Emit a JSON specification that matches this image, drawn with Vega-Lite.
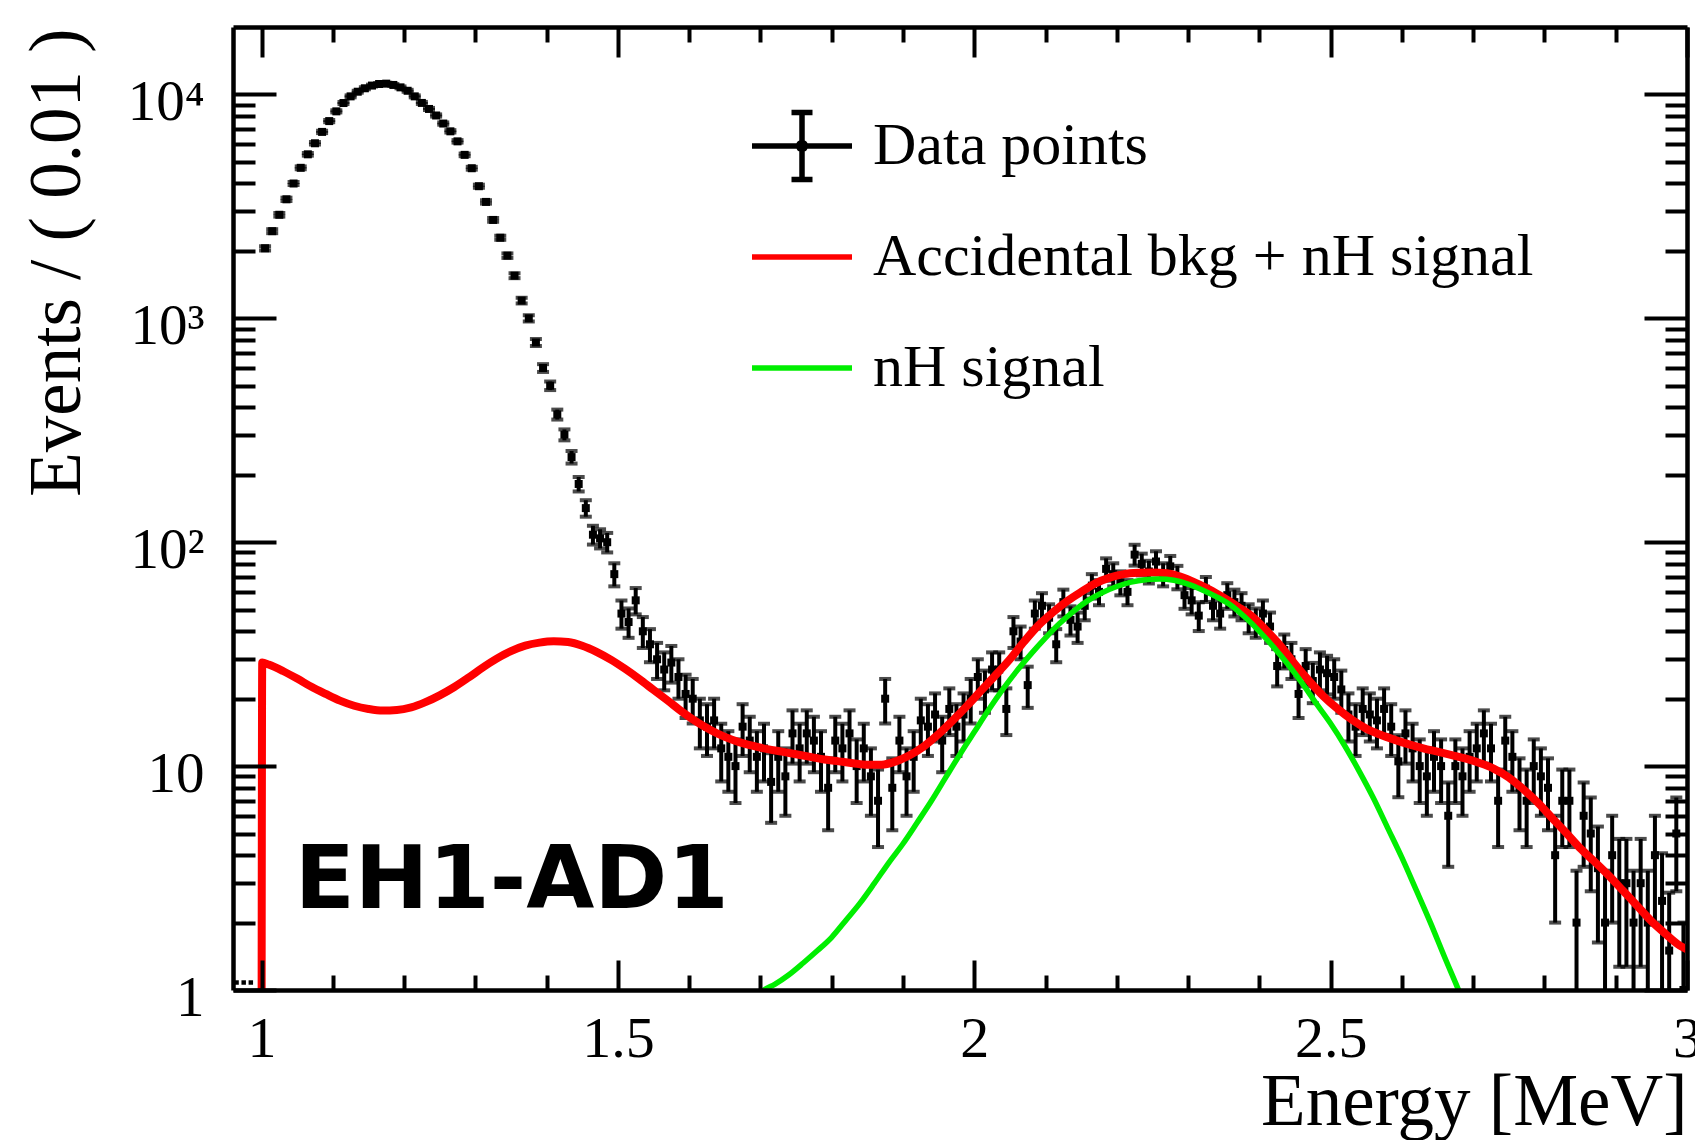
{
  "$schema": "https://vega.github.io/schema/vega-lite/v6.json",
  "width": 1454,
  "height": 963,
  "autosize": {"type": "none"},
  "padding": {"left": 233, "top": 27, "right": 8, "bottom": 150},
  "background": "white",
  "config": {"view": {"stroke": null}},
  "datasets": {
    "pts": [
      {"E":1.005,"N":2055,"lo":2010,"hi":2100},{"E":1.015,"N":2450,"lo":2400,"hi":2500},{"E":1.025,"N":2900,"lo":2846,"hi":2954},{"E":1.035,"N":3400,"lo":3342,"hi":3458},
      {"E":1.045,"N":4000,"lo":3937,"hi":4063},{"E":1.055,"N":4700,"lo":4631,"hi":4769},{"E":1.065,"N":5400,"lo":5327,"hi":5473},{"E":1.075,"N":6050,"lo":5972,"hi":6128},
      {"E":1.085,"N":6800,"lo":6718,"hi":6882},{"E":1.095,"N":7600,"lo":7513,"hi":7687},{"E":1.105,"N":8400,"lo":8308,"hi":8492},{"E":1.115,"N":9150,"lo":9054,"hi":9246},
      {"E":1.125,"N":9800,"lo":9701,"hi":9899},{"E":1.135,"N":10280,"lo":10179,"hi":10381},{"E":1.145,"N":10650,"lo":10547,"hi":10753},{"E":1.155,"N":10950,"lo":10845,"hi":11055},
      {"E":1.165,"N":11130,"lo":11025,"hi":11235},{"E":1.175,"N":11170,"lo":11064,"hi":11276},{"E":1.185,"N":11020,"lo":10915,"hi":11125},{"E":1.195,"N":10750,"lo":10646,"hi":10854},
      {"E":1.205,"N":10380,"lo":10278,"hi":10482},{"E":1.215,"N":9800,"lo":9701,"hi":9899},{"E":1.225,"N":9160,"lo":9064,"hi":9256},{"E":1.235,"N":8610,"lo":8517,"hi":8703},
      {"E":1.245,"N":8050,"lo":7960,"hi":8140},{"E":1.255,"N":7410,"lo":7324,"hi":7496},{"E":1.265,"N":6840,"lo":6757,"hi":6923},{"E":1.275,"N":6170,"lo":6091,"hi":6249},
      {"E":1.285,"N":5370,"lo":5297,"hi":5443},{"E":1.295,"N":4680,"lo":4612,"hi":4748},{"E":1.305,"N":3890,"lo":3828,"hi":3952},{"E":1.315,"N":3310,"lo":3252,"hi":3368},
      {"E":1.325,"N":2750,"lo":2698,"hi":2802},{"E":1.335,"N":2290,"lo":2242,"hi":2338},{"E":1.345,"N":1905,"lo":1861,"hi":1949},{"E":1.355,"N":1550,"lo":1511,"hi":1589},
      {"E":1.365,"N":1200,"lo":1165,"hi":1235},{"E":1.375,"N":1000,"lo":968,"hi":1032},{"E":1.385,"N":780,"lo":752,"hi":808},{"E":1.395,"N":600,"lo":576,"hi":624},
      {"E":1.405,"N":500,"lo":478,"hi":522},{"E":1.415,"N":372,"lo":353,"hi":391},{"E":1.425,"N":302,"lo":285,"hi":319},{"E":1.435,"N":240,"lo":224.5,"hi":255.5},
      {"E":1.445,"N":182,"lo":168.5,"hi":195.5},{"E":1.455,"N":142,"lo":130,"hi":154},{"E":1.465,"N":108,"lo":97.6,"hi":118.4},{"E":1.475,"N":104,"lo":93.8,"hi":114.2},
      {"E":1.485,"N":100,"lo":90,"hi":110},{"E":1.495,"N":72,"lo":63.5,"hi":80.5},{"E":1.505,"N":48,"lo":41.1,"hi":54.9},{"E":1.515,"N":44,"lo":37.4,"hi":50.6},
      {"E":1.525,"N":55,"lo":47.6,"hi":62.4},{"E":1.535,"N":40,"lo":33.7,"hi":46.3},{"E":1.545,"N":35,"lo":29.1,"hi":40.9},{"E":1.555,"N":30,"lo":24.5,"hi":35.5},
      {"E":1.565,"N":27,"lo":21.8,"hi":32.2},{"E":1.575,"N":29,"lo":23.6,"hi":34.4},{"E":1.585,"N":25,"lo":20,"hi":30},{"E":1.595,"N":21,"lo":16.4,"hi":25.6},
      {"E":1.605,"N":20,"lo":15.5,"hi":24.5},{"E":1.615,"N":16,"lo":12,"hi":20},{"E":1.625,"N":15,"lo":11.1,"hi":18.9},{"E":1.635,"N":16,"lo":12,"hi":20},
      {"E":1.645,"N":12,"lo":8.54,"hi":15.46},{"E":1.655,"N":11,"lo":7.68,"hi":14.32},{"E":1.665,"N":10,"lo":6.84,"hi":13.16},{"E":1.675,"N":15,"lo":11.1,"hi":18.9},
      {"E":1.685,"N":13,"lo":9.39,"hi":16.61},{"E":1.695,"N":11,"lo":7.68,"hi":14.32},{"E":1.705,"N":12,"lo":8.54,"hi":15.46},{"E":1.715,"N":8.5,"lo":5.58,"hi":11.42},
      {"E":1.725,"N":11,"lo":7.68,"hi":14.32},{"E":1.735,"N":9,"lo":6,"hi":12},{"E":1.745,"N":14,"lo":10.26,"hi":17.74},{"E":1.755,"N":12,"lo":8.54,"hi":15.46},
      {"E":1.765,"N":14,"lo":10.26,"hi":17.74},{"E":1.775,"N":13,"lo":9.39,"hi":16.61},{"E":1.785,"N":11,"lo":7.68,"hi":14.32},{"E":1.795,"N":8,"lo":5.17,"hi":10.83},
      {"E":1.805,"N":13,"lo":9.39,"hi":16.61},{"E":1.815,"N":12,"lo":8.54,"hi":15.46},{"E":1.825,"N":14,"lo":10.26,"hi":17.74},{"E":1.835,"N":10,"lo":6.84,"hi":13.16},
      {"E":1.845,"N":12,"lo":8.54,"hi":15.46},{"E":1.855,"N":9,"lo":6,"hi":12},{"E":1.865,"N":7,"lo":4.35,"hi":9.65},{"E":1.875,"N":20,"lo":15.5,"hi":24.5},
      {"E":1.885,"N":8,"lo":5.17,"hi":10.83},{"E":1.895,"N":13,"lo":9.39,"hi":16.61},{"E":1.905,"N":9,"lo":6,"hi":12},{"E":1.915,"N":11,"lo":7.68,"hi":14.32},
      {"E":1.925,"N":16,"lo":12,"hi":20},{"E":1.935,"N":15,"lo":11.1,"hi":18.9},{"E":1.945,"N":17,"lo":12.88,"hi":21.12},{"E":1.955,"N":13,"lo":9.39,"hi":16.61},
      {"E":1.965,"N":18,"lo":13.76,"hi":22.24},{"E":1.975,"N":15,"lo":11.1,"hi":18.9},{"E":1.985,"N":17,"lo":12.88,"hi":21.12},{"E":1.995,"N":20,"lo":15.5,"hi":24.5},
      {"E":2.005,"N":25,"lo":20,"hi":30},{"E":2.015,"N":22,"lo":17.3,"hi":26.7},{"E":2.025,"N":27,"lo":21.8,"hi":32.2},{"E":2.035,"N":27,"lo":21.8,"hi":32.2},
      {"E":2.045,"N":18,"lo":13.76,"hi":22.24},{"E":2.055,"N":40,"lo":33.7,"hi":46.3},{"E":2.065,"N":36,"lo":30,"hi":42},{"E":2.075,"N":23,"lo":18.2,"hi":27.8},
      {"E":2.085,"N":48,"lo":41.1,"hi":54.9},{"E":2.095,"N":52,"lo":44.8,"hi":59.2},{"E":2.105,"N":46,"lo":39.2,"hi":52.8},{"E":2.115,"N":35,"lo":29.1,"hi":40.9},
      {"E":2.125,"N":54,"lo":46.6,"hi":61.4},{"E":2.135,"N":45,"lo":38.3,"hi":51.7},{"E":2.145,"N":42,"lo":35.5,"hi":48.5},{"E":2.155,"N":52,"lo":44.8,"hi":59.2},
      {"E":2.165,"N":64,"lo":56,"hi":72},{"E":2.175,"N":60,"lo":52.3,"hi":67.7},{"E":2.185,"N":76,"lo":67.3,"hi":84.7},{"E":2.195,"N":72,"lo":63.5,"hi":80.5},
      {"E":2.205,"N":66,"lo":57.9,"hi":74.1},{"E":2.215,"N":60,"lo":52.3,"hi":67.7},{"E":2.225,"N":88,"lo":78.6,"hi":97.4},{"E":2.235,"N":80,"lo":71.1,"hi":88.9},
      {"E":2.245,"N":74,"lo":65.4,"hi":82.6},{"E":2.255,"N":82,"lo":72.9,"hi":91.1},{"E":2.265,"N":72,"lo":63.5,"hi":80.5},{"E":2.275,"N":78,"lo":69.2,"hi":86.8},
      {"E":2.285,"N":70,"lo":61.6,"hi":78.4},{"E":2.295,"N":58,"lo":50.4,"hi":65.6},{"E":2.305,"N":55,"lo":47.6,"hi":62.4},{"E":2.315,"N":47,"lo":40.1,"hi":53.9},
      {"E":2.325,"N":62,"lo":54.1,"hi":69.9},{"E":2.335,"N":52,"lo":44.8,"hi":59.2},{"E":2.345,"N":48,"lo":41.1,"hi":54.9},{"E":2.355,"N":58,"lo":50.4,"hi":65.6},
      {"E":2.365,"N":54,"lo":46.6,"hi":61.4},{"E":2.375,"N":52,"lo":44.8,"hi":59.2},{"E":2.385,"N":46,"lo":39.2,"hi":52.8},{"E":2.395,"N":44,"lo":37.4,"hi":50.6},
      {"E":2.405,"N":48,"lo":41.1,"hi":54.9},{"E":2.415,"N":42,"lo":35.5,"hi":48.5},{"E":2.425,"N":28,"lo":22.7,"hi":33.3},{"E":2.435,"N":33,"lo":27.3,"hi":38.7},
      {"E":2.445,"N":30,"lo":24.5,"hi":35.5},{"E":2.455,"N":21,"lo":16.4,"hi":25.6},{"E":2.465,"N":28,"lo":22.7,"hi":33.3},{"E":2.475,"N":24,"lo":19.1,"hi":28.9},
      {"E":2.485,"N":27,"lo":21.8,"hi":32.2},{"E":2.495,"N":26,"lo":20.9,"hi":31.1},{"E":2.505,"N":25,"lo":20,"hi":30},{"E":2.515,"N":22,"lo":17.3,"hi":26.7},
      {"E":2.525,"N":17,"lo":12.88,"hi":21.12},{"E":2.535,"N":15,"lo":11.1,"hi":18.9},{"E":2.545,"N":18,"lo":13.76,"hi":22.24},{"E":2.555,"N":17,"lo":12.88,"hi":21.12},
      {"E":2.565,"N":16,"lo":12,"hi":20},{"E":2.575,"N":18,"lo":13.76,"hi":22.24},{"E":2.585,"N":15,"lo":11.1,"hi":18.9},{"E":2.595,"N":10.5,"lo":7.26,"hi":13.74},
      {"E":2.605,"N":14,"lo":10.26,"hi":17.74},{"E":2.615,"N":12,"lo":8.54,"hi":15.46},{"E":2.625,"N":10,"lo":6.84,"hi":13.16},{"E":2.635,"N":9,"lo":6,"hi":12},
      {"E":2.645,"N":11,"lo":7.68,"hi":14.32},{"E":2.655,"N":10,"lo":6.84,"hi":13.16},{"E":2.665,"N":6,"lo":3.55,"hi":8.45},{"E":2.675,"N":10,"lo":6.84,"hi":13.16},
      {"E":2.685,"N":9,"lo":6,"hi":12},{"E":2.695,"N":11,"lo":7.68,"hi":14.32},{"E":2.705,"N":12,"lo":8.54,"hi":15.46},{"E":2.715,"N":14,"lo":10.26,"hi":17.74},
      {"E":2.725,"N":12,"lo":8.54,"hi":15.46},{"E":2.735,"N":7,"lo":4.35,"hi":9.65},{"E":2.745,"N":13,"lo":9.39,"hi":16.61},{"E":2.755,"N":11,"lo":7.68,"hi":14.32},
      {"E":2.765,"N":8,"lo":5.17,"hi":10.83},{"E":2.775,"N":7,"lo":4.35,"hi":9.65},{"E":2.785,"N":10,"lo":6.84,"hi":13.16},{"E":2.795,"N":9,"lo":6,"hi":12},
      {"E":2.805,"N":8,"lo":5.17,"hi":10.83},{"E":2.815,"N":4,"lo":2,"hi":6},{"E":2.825,"N":7,"lo":4.35,"hi":9.65},{"E":2.835,"N":7,"lo":4.35,"hi":9.65},
      {"E":2.845,"N":2,"lo":0.59,"hi":3.41},{"E":2.855,"N":6,"lo":3.55,"hi":8.45},{"E":2.865,"N":5,"lo":2.76,"hi":7.24},{"E":2.875,"N":3.5,"lo":1.63,"hi":5.37},
      {"E":2.885,"N":2,"lo":0.59,"hi":3.41},{"E":2.895,"N":4,"lo":2,"hi":6},{"E":2.905,"N":3,"lo":1.27,"hi":4.73},{"E":2.915,"N":3,"lo":1.27,"hi":4.73},
      {"E":2.925,"N":2,"lo":0.59,"hi":3.41},{"E":2.935,"N":3,"lo":1.27,"hi":4.73},{"E":2.945,"N":2,"lo":0.59,"hi":3.41},{"E":2.955,"N":4,"lo":2,"hi":6},
      {"E":2.965,"N":2.5,"lo":0.92,"hi":4.08},{"E":2.975,"N":1.5,"lo":0.28,"hi":2.72},{"E":2.985,"N":5,"lo":2.76,"hi":7.24},{"E":2.995,"N":1,"lo":0.05,"hi":2}
    ],
    "zeros": [{"E":0.965,"N":1.08},{"E":0.975,"N":1.08},{"E":0.985,"N":1.08}],
    "red": [
      {"E":1.0,"v":0.3},{"E":1.001,"v":29},{"E":1.01,"v":28.4},{"E":1.03,"v":26.6},{"E":1.05,"v":24.6},{"E":1.07,"v":22.6},{"E":1.09,"v":21.0},
      {"E":1.11,"v":19.6},{"E":1.13,"v":18.6},{"E":1.15,"v":18.0},{"E":1.17,"v":17.7},{"E":1.19,"v":17.8},{"E":1.21,"v":18.3},{"E":1.23,"v":19.3},
      {"E":1.25,"v":20.7},{"E":1.27,"v":22.5},{"E":1.29,"v":24.8},{"E":1.31,"v":27.5},{"E":1.33,"v":30.2},{"E":1.35,"v":32.6},{"E":1.37,"v":34.5},
      {"E":1.39,"v":35.6},{"E":1.41,"v":36.1},{"E":1.43,"v":35.8},{"E":1.45,"v":34.5},{"E":1.47,"v":32.4},{"E":1.49,"v":29.9},{"E":1.51,"v":27.2},
      {"E":1.53,"v":24.5},{"E":1.55,"v":21.9},{"E":1.57,"v":19.6},{"E":1.59,"v":17.5},{"E":1.61,"v":15.8},{"E":1.63,"v":14.5},{"E":1.65,"v":13.5},
      {"E":1.67,"v":12.8},{"E":1.69,"v":12.3},{"E":1.71,"v":11.9},{"E":1.73,"v":11.6},{"E":1.75,"v":11.3},{"E":1.77,"v":11.0},{"E":1.79,"v":10.7},
      {"E":1.81,"v":10.5},{"E":1.83,"v":10.3},{"E":1.85,"v":10.15},{"E":1.87,"v":10.15},{"E":1.89,"v":10.5},{"E":1.91,"v":11.2},{"E":1.93,"v":12.3},
      {"E":1.95,"v":13.9},{"E":1.97,"v":16.0},{"E":1.99,"v":18.6},{"E":2.01,"v":21.8},{"E":2.03,"v":25.5},{"E":2.05,"v":30.0},{"E":2.07,"v":36.0},
      {"E":2.09,"v":42.5},{"E":2.11,"v":48.5},{"E":2.13,"v":54.5},{"E":2.15,"v":60.0},{"E":2.17,"v":65.5},{"E":2.19,"v":69.5},{"E":2.21,"v":72.0},
      {"E":2.23,"v":73.0},{"E":2.25,"v":73.3},{"E":2.27,"v":72.6},{"E":2.29,"v":70.0},{"E":2.31,"v":66.0},{"E":2.33,"v":61.5},{"E":2.35,"v":56.5},
      {"E":2.37,"v":51.5},{"E":2.39,"v":46.5},{"E":2.41,"v":40.3},{"E":2.43,"v":34.4},{"E":2.45,"v":28.5},{"E":2.47,"v":24.0},{"E":2.49,"v":20.5},
      {"E":2.51,"v":18.0},{"E":2.53,"v":16.1},{"E":2.55,"v":14.7},{"E":2.57,"v":13.8},{"E":2.59,"v":13.1},{"E":2.61,"v":12.5},{"E":2.63,"v":12.0},
      {"E":2.65,"v":11.6},{"E":2.67,"v":11.2},{"E":2.69,"v":10.8},{"E":2.71,"v":10.3},{"E":2.73,"v":9.7},{"E":2.75,"v":8.9},{"E":2.77,"v":7.9},
      {"E":2.79,"v":6.9},{"E":2.81,"v":5.9},{"E":2.83,"v":5.05},{"E":2.85,"v":4.3},{"E":2.87,"v":3.75},{"E":2.89,"v":3.25},{"E":2.91,"v":2.78},
      {"E":2.93,"v":2.38},{"E":2.95,"v":2.03},{"E":2.97,"v":1.78},{"E":2.99,"v":1.58},{"E":3.0,"v":1.52}
    ],
    "green": [
      {"E":1.69,"v":0.9},{"E":1.705,"v":1.0},{"E":1.72,"v":1.06},{"E":1.74,"v":1.17},{"E":1.76,"v":1.32},{"E":1.78,"v":1.5},{"E":1.80,"v":1.72},
      {"E":1.82,"v":2.05},{"E":1.84,"v":2.45},{"E":1.86,"v":3.0},{"E":1.88,"v":3.7},{"E":1.90,"v":4.5},{"E":1.92,"v":5.6},{"E":1.94,"v":7.0},
      {"E":1.96,"v":8.9},{"E":1.98,"v":11.3},{"E":2.00,"v":14.2},{"E":2.02,"v":17.8},{"E":2.04,"v":22.0},{"E":2.06,"v":26.7},{"E":2.08,"v":31.8},
      {"E":2.10,"v":37.4},{"E":2.12,"v":43.4},{"E":2.14,"v":49.4},{"E":2.16,"v":55.0},{"E":2.18,"v":59.6},{"E":2.20,"v":63.4},{"E":2.22,"v":66.3},
      {"E":2.24,"v":68.0},{"E":2.26,"v":68.5},{"E":2.28,"v":67.6},{"E":2.30,"v":65.0},{"E":2.32,"v":61.2},{"E":2.34,"v":57.0},{"E":2.36,"v":52.3},
      {"E":2.38,"v":46.2},{"E":2.40,"v":40.0},{"E":2.42,"v":34.0},{"E":2.44,"v":28.5},{"E":2.46,"v":23.5},{"E":2.48,"v":19.0},{"E":2.50,"v":15.5},
      {"E":2.52,"v":12.3},{"E":2.54,"v":9.5},{"E":2.56,"v":7.2},{"E":2.58,"v":5.3},{"E":2.60,"v":3.9},{"E":2.62,"v":2.8},{"E":2.64,"v":2.0},
      {"E":2.66,"v":1.4},{"E":2.68,"v":0.99},{"E":2.70,"v":0.68}
    ],
    "legend": [{"series":"Data points"},{"series":"Accidental bkg + nH signal"},{"series":"nH signal"}],
    "label": [{"text":"EH1-AD1"}]
  },
  "resolve": {"axis": {"x": "independent", "y": "independent"}},
  "layer": [
    {
      "data": {"name": "pts"},
      "mark": {"type": "rule", "color": "black", "strokeWidth": 4, "clip": true},
      "encoding": {
        "x": {"field": "E", "type": "quantitative", "scale": {"domain": [0.96, 3.0], "nice": false, "zero": false}, "axis": null},
        "y": {"field": "lo", "type": "quantitative", "scale": {"type": "log", "domain": [1, 20000], "nice": false}, "axis": null},
        "y2": {"field": "hi"}
      }
    },
    {
      "data": {"name": "pts"},
      "mark": {"type": "tick", "orient": "horizontal", "color": "black", "size": 12, "thickness": 4, "clip": true},
      "encoding": {
        "x": {"field": "E", "type": "quantitative", "scale": {"domain": [0.96, 3.0], "nice": false, "zero": false}, "axis": null},
        "y": {"field": "lo", "type": "quantitative", "scale": {"type": "log", "domain": [1, 20000], "nice": false}, "axis": null}
      }
    },
    {
      "data": {"name": "pts"},
      "mark": {"type": "tick", "orient": "horizontal", "color": "black", "size": 12, "thickness": 4, "clip": true},
      "encoding": {
        "x": {"field": "E", "type": "quantitative", "scale": {"domain": [0.96, 3.0], "nice": false, "zero": false}, "axis": null},
        "y": {"field": "hi", "type": "quantitative", "scale": {"type": "log", "domain": [1, 20000], "nice": false}, "axis": null}
      }
    },
    {
      "data": {"name": "zeros"},
      "mark": {"type": "square", "color": "black", "size": 20, "opacity": 1, "clip": true},
      "encoding": {
        "x": {"field": "E", "type": "quantitative", "scale": {"domain": [0.96, 3.0], "nice": false, "zero": false}, "axis": null},
        "y": {"field": "N", "type": "quantitative", "scale": {"type": "log", "domain": [1, 20000], "nice": false}, "axis": null}
      }
    },
    {
      "data": {"name": "pts"},
      "mark": {"type": "square", "color": "black", "size": 64, "opacity": 1, "clip": true},
      "encoding": {
        "x": {"field": "E", "type": "quantitative", "scale": {"domain": [0.96, 3.0], "nice": false, "zero": false},
          "axis": {"orient": "bottom", "values": [1, 1.5, 2, 2.5, 3], "tickSize": -30, "tickWidth": 4, "tickColor": "black",
            "domain": true, "domainWidth": 4.5, "domainColor": "black", "grid": false,
            "labelExpr": "'' + datum.value", "labelFont": "Liberation Serif", "labelFontSize": 58, "labelColor": "black",
            "labelPadding": 50, "labelFlush": false, "labelOverlap": false, "labelBaseline": "top", "labelAlign": "center",
            "title": "Energy [MeV]", "titleFont": "Liberation Serif", "titleFontSize": 73, "titleFontWeight": "normal", "titleColor": "black",
            "titleAlign": "right", "titleBaseline": "alphabetic", "titleX": 1454, "titleY": 134, "zindex": 1}},
        "y": {"field": "N", "type": "quantitative", "scale": {"type": "log", "domain": [1, 20000], "nice": false},
          "axis": {"orient": "left", "values": [1, 10, 100, 1000, 10000], "tickSize": -43, "tickWidth": 4, "tickColor": "black",
            "domain": true, "domainWidth": 4.5, "domainColor": "black", "grid": false,
            "labelExpr": "datum.value == 10000 ? '10⁴' : datum.value == 1000 ? '10³' : datum.value == 100 ? '10²' : datum.value == 10 ? '10' : '1'",
            "labelFont": "Liberation Serif", "labelFontSize": 57, "labelColor": "black", "labelPadding": 72, "labelOffset": 8,
            "labelAlign": "right", "labelBaseline": "middle", "labelOverlap": false, "labelFlush": false,
            "title": "Events / ( 0.01 )", "titleFont": "Liberation Serif", "titleFontSize": 73, "titleFontWeight": "normal", "titleColor": "black",
            "titleAngle": -90, "titleAlign": "right", "titleBaseline": "alphabetic", "titleX": -154, "titleY": 1, "zindex": 1}}
      }
    },
    {
      "data": {"name": "red"},
      "mark": {"type": "line", "color": "#ff0000", "strokeWidth": 8, "interpolate": "monotone", "clip": true},
      "encoding": {
        "x": {"field": "E", "type": "quantitative", "scale": {"domain": [0.96, 3.0], "nice": false, "zero": false},
          "axis": {"orient": "bottom", "values": [1.1,1.2,1.3,1.4,1.6,1.7,1.8,1.9,2.1,2.2,2.3,2.4,2.6,2.7,2.8,2.9], "tickSize": -15, "tickWidth": 4, "tickColor": "black",
            "labels": false, "domain": false, "grid": false, "title": null, "zindex": 1}},
        "y": {"field": "v", "type": "quantitative", "scale": {"type": "log", "domain": [1, 20000], "nice": false},
          "axis": {"orient": "left", "values": [2,3,4,5,6,7,8,9,20,30,40,50,60,70,80,90,200,300,400,500,600,700,800,900,2000,3000,4000,5000,6000,7000,8000,9000],
            "tickSize": -22, "tickWidth": 4, "tickColor": "black", "labels": false, "domain": false, "grid": false, "title": null, "zindex": 1}}
      }
    },
    {
      "data": {"name": "green"},
      "mark": {"type": "line", "color": "#00ee00", "strokeWidth": 5.5, "interpolate": "monotone", "clip": true},
      "encoding": {
        "x": {"field": "E", "type": "quantitative", "scale": {"domain": [0.96, 3.0], "nice": false, "zero": false},
          "axis": {"orient": "top", "values": [1, 1.5, 2, 2.5, 3], "tickSize": -30, "tickWidth": 4, "tickColor": "black",
            "labels": false, "domain": true, "domainWidth": 4.5, "domainColor": "black", "grid": false, "title": null, "zindex": 1}},
        "y": {"field": "v", "type": "quantitative", "scale": {"type": "log", "domain": [1, 20000], "nice": false},
          "axis": {"orient": "right", "values": [1, 10, 100, 1000, 10000], "tickSize": -43, "tickWidth": 4, "tickColor": "black",
            "labels": false, "domain": true, "domainWidth": 4.5, "domainColor": "black", "grid": false, "title": null, "zindex": 1}}
      }
    },
    {
      "data": {"name": "legend"},
      "mark": {"type": "point", "size": 0, "filled": false, "strokeWidth": 0},
      "encoding": {
        "color": {"field": "series", "type": "nominal",
          "scale": {"domain": ["Data points", "Accidental bkg + nH signal", "nH signal"], "range": ["black", "#ff0000", "#00ee00"]},
          "legend": {"title": null, "orient": "none", "legendX": 516, "legendY": 66, "direction": "vertical",
            "symbolSize": 10000, "symbolStrokeWidth": 5.5, "symbolOpacity": 1,
            "labelFont": "Liberation Serif", "labelFontSize": 60, "labelColor": "black", "labelLimit": 2000, "labelOffset": 18,
            "rowPadding": 13, "padding": 0}},
        "shape": {"field": "series", "type": "nominal",
          "scale": {"domain": ["Data points", "Accidental bkg + nH signal", "nH signal"],
            "range": ["M-1,0H1M0,-0.67V0.67M-0.21,-0.67H0.21M-0.21,0.67H0.21M0.07,0A0.07,0.07,0,1,1,-0.07,0A0.07,0.07,0,1,1,0.07,0",
                      "M-1,0H1M0,-0.67M0,0.67", "M-1,0H1M0,-0.67M0,0.67"]},
          "legend": {"title": null}}
      }
    },
    {
      "data": {"name": "label"},
      "mark": {"type": "text", "font": "DejaVu Sans", "fontWeight": "bold", "fontSize": 88, "align": "left", "baseline": "alphabetic", "color": "black"},
      "encoding": {
        "text": {"field": "text"},
        "x": {"datum": 1.0466, "type": "quantitative", "scale": {"domain": [0.96, 3.0], "nice": false, "zero": false},
          "axis": {"orient": "top", "values": [1.1,1.2,1.3,1.4,1.6,1.7,1.8,1.9,2.1,2.2,2.3,2.4,2.6,2.7,2.8,2.9], "tickSize": -15, "tickWidth": 4, "tickColor": "black",
            "labels": false, "domain": false, "grid": false, "title": null, "zindex": 1}},
        "y": {"datum": 2.324, "type": "quantitative", "scale": {"type": "log", "domain": [1, 20000], "nice": false},
          "axis": {"orient": "right", "values": [2,3,4,5,6,7,8,9,20,30,40,50,60,70,80,90,200,300,400,500,600,700,800,900,2000,3000,4000,5000,6000,7000,8000,9000],
            "tickSize": -22, "tickWidth": 4, "tickColor": "black", "labels": false, "domain": false, "grid": false, "title": null, "zindex": 1}}
      }
    }
  ]
}
